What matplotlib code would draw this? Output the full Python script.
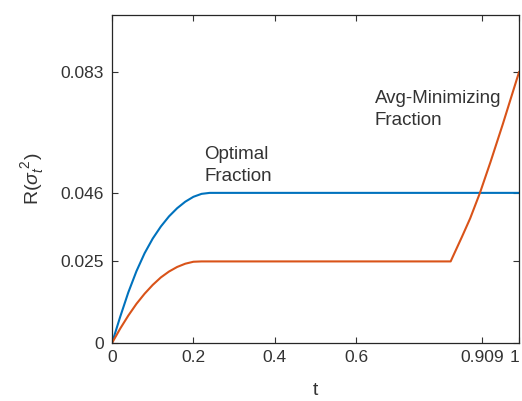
import matplotlib
matplotlib.use('Agg')
import matplotlib.pyplot as plt
import matplotlib.transforms as mtransforms

# values
t_opt = [0, 0.02, 0.04, 0.06, 0.08, 0.10, 0.12, 0.14, 0.16, 0.18, 0.20, 0.22, 0.24, 0.26, 1.0]
r_opt = [0, 0.0080, 0.0155, 0.0220, 0.0275, 0.0320, 0.0357, 0.0388, 0.0413, 0.0433,
         0.0448, 0.0457, 0.0460, 0.0460, 0.0460]

t_avg = [0, 0.02, 0.04, 0.06, 0.08, 0.10, 0.12, 0.14, 0.16, 0.18, 0.20, 0.22,
         0.832, 0.86, 0.88, 0.904, 0.93, 0.96, 1.0]
r_avg = [0, 0.0044, 0.0084, 0.0120, 0.0151, 0.0178, 0.0201, 0.0219, 0.0233, 0.0243,
         0.0249, 0.0250, 0.0250, 0.0326, 0.0382, 0.0460, 0.0555, 0.0670, 0.0830]

xticks = [0, 0.2, 0.4, 0.6, 0.909, 1]
xticklabels = ['0', '0.2', '0.4', '0.6', '0.909', '1']
yticks = [0, 0.025, 0.046, 0.083]
yticklabels = ['0', '0.025', '0.046', '0.083']

plt.rcParams['font.family'] = ['Liberation Sans', 'DejaVu Sans']
plt.rcParams['mathtext.fontset'] = 'custom'
plt.rcParams['mathtext.rm'] = 'Liberation Sans'
plt.rcParams['mathtext.it'] = 'Liberation Sans:italic'

fig = plt.figure(figsize=(5.22, 4.01), dpi=100)
ax = fig.add_axes([0.2146, 0.1446, 0.7797, 0.818])

ax.plot(t_opt, r_opt, color='#0072BD', lw=1.5)
ax.plot(t_avg, r_avg, color='#D95319', lw=1.5)

ax.set_xlim(0, 1)
ax.set_ylim(0, 0.1005)
ax.set_xticks(xticks)
ax.set_xticklabels(xticklabels)
ax.set_yticks(yticks)
ax.set_yticklabels(yticklabels)

ax.tick_params(direction='in', top=True, right=True, length=4, width=0.8,
               colors='#333333', labelsize=12.5)
ax.tick_params(axis='x', pad=5)
ax.tick_params(axis='y', pad=6)
for s in ax.spines.values():
    s.set_color('#262626')
    s.set_linewidth(0.9)

# last tick label sits right at the figure edge, nudge it in a bit
last = ax.get_xticklabels()[-1]
last.set_transform(last.get_transform() +
                   mtransforms.ScaledTranslation(-3 / 72, 0, fig.dpi_scale_trans))

ax.set_xlabel('t', fontsize=14, color='#333333', labelpad=12)
ax.set_ylabel(r'R($\sigma_t^{\ 2}$)', fontsize=14, color='#333333', labelpad=10)

ax.text(0.226, 0.0605, 'Optimal\nFraction', fontsize=13.5, color='#333333',
        va='top', ha='left', linespacing=1.4)
ax.text(0.646, 0.0775, 'Avg-Minimizing\nFraction', fontsize=13.5, color='#333333',
        va='top', ha='left', linespacing=1.4)

fig.savefig('out.png', dpi=100)
